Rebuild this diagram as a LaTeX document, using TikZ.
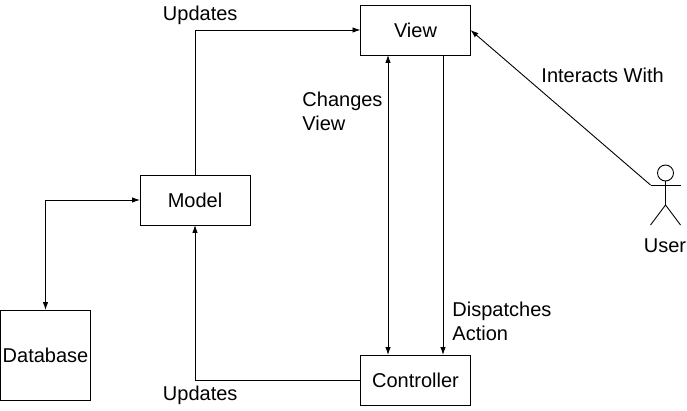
\documentclass[tikz,border=0pt]{standalone}
\usepackage{fontspec}
\setmainfont{Liberation Sans}
\usetikzlibrary{arrows.meta}
\tikzset{
  box/.style={draw,minimum width=110pt,minimum height=50pt,inner sep=0pt,outer sep=0pt},
  lbl/.style={anchor=west,align=left,inner sep=0pt,font=\fontsize{20}{24}\selectfont},
  flow/.style={-{Latex[length=8pt,width=5.5pt]}},
  both/.style={{Latex[length=8pt,width=5.5pt]}-{Latex[length=8pt,width=5.5pt]}}
}
\begin{document}
\begin{tikzpicture}[x=1pt,y=-1pt,line width=0.9pt,font=\fontsize{20}{24}\selectfont]
  \useasboundingbox (0,0) rectangle (687,411);
  \node [box] (view) at (415.5,30) {View};
  \node [box] (controller) at (415.5,380) {Controller};
  \node [box] (model) at (195,200) {Model};
  \node [box,minimum width=90pt,minimum height=90pt] (database) at (45.5,355) {Database};
  % user figure
  \node [draw,circle,minimum size=16pt,inner sep=0pt,outer sep=0pt] (head) at (665.5,173) {};
  \coordinate (hip) at (665.5,205);
  \coordinate (handl) at (650.5,185);
  \coordinate (handr) at (680.5,185);
  \coordinate (footl) at (650.5,225);
  \coordinate (footr) at (680.5,225);
  \draw (head.south)--(hip);
  \draw (handl)--(handr);
  \draw (footl)--(hip)--(footr);
  \node (user) at (665,245.5) {User};
  % connectors
  \draw [flow] (model.north) |- (view.west);
  \draw [flow] (controller.west) -| (model.south);
  \draw [both] (database.north) |- (model.west);
  \draw [both] ([xshift=-27.5pt]view.south)--([xshift=-27.5pt]controller.north);
  \draw [flow] ([xshift=27.5pt]view.south)--([xshift=27.5pt]controller.north);
  \draw [flow] (handl)--(view.east);
  % labels
  \node [lbl] (updatestop) at (162.5,15.5) {Updates};
  \node [lbl] (updatesbot) at (162.5,395.5) {Updates};
  \node [lbl] (changes) at (302,111.5) {Changes\\View};
  \node [lbl] (dispatches) at (452,321.5) {Dispatches\\Action};
  \node [lbl] (interacts) at (541,75.5) {Interacts With};
\end{tikzpicture}
\end{document}
